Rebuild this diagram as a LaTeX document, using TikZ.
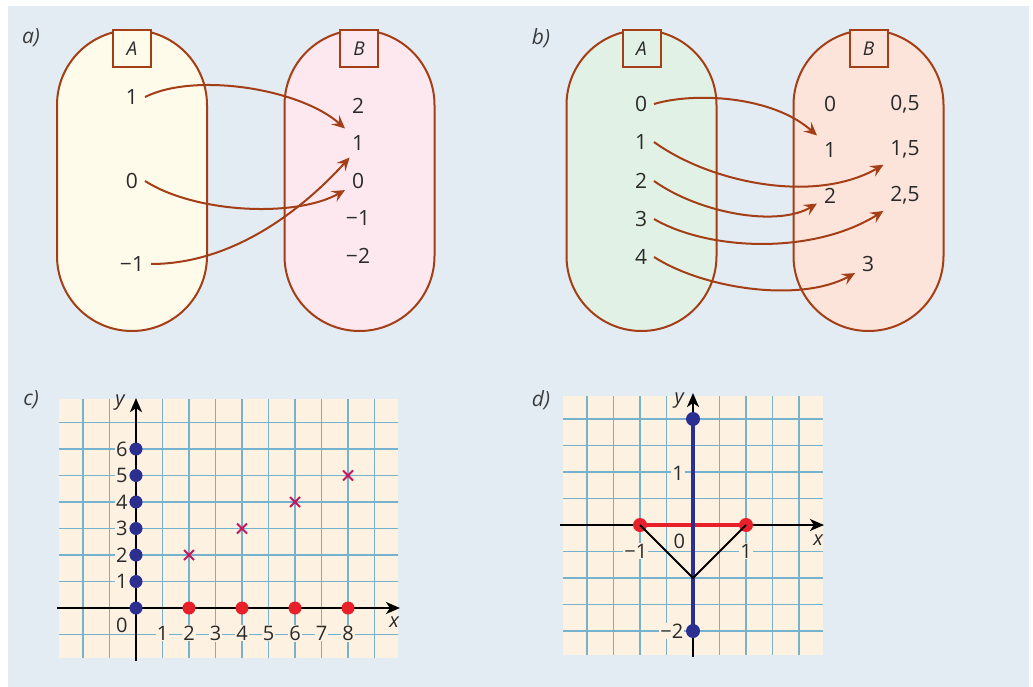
\documentclass[tikz,border=0pt]{standalone}
\usepackage{fontspec}
\setmainfont{Open Sans}
\usetikzlibrary{arrows.meta, positioning}
\definecolor{bgblue}{HTML}{E3ECF2}
\definecolor{brn}{RGB}{163,62,22}
\definecolor{txt}{HTML}{2A2A2A}
\definecolor{lbl}{HTML}{3C3C3C}
\definecolor{fillAa}{HTML}{FFFBEA}
\definecolor{fillBa}{HTML}{FDE8F0}
\definecolor{fillAb}{HTML}{E2F1E6}
\definecolor{fillBb}{HTML}{FDE4DA}
\definecolor{paper}{HTML}{FDF1E2}
\definecolor{gridc}{RGB}{118,178,206}
\definecolor{navy}{HTML}{2B2F8F}
\definecolor{dotred}{HTML}{E8202A}
\definecolor{crossc}{HTML}{C2185B}

\begin{document}
\begin{tikzpicture}[
  x=1pt, y=-1pt,
  elem/.style={inner sep=2pt, outer sep=5pt, text=txt, font=\fontsize{21}{24}\selectfont},
  oval/.style={draw=brn, line width=2pt, rounded corners=75pt, minimum width=150pt, minimum height=301pt, inner sep=0pt},
  setbox/.style={draw=brn, line width=2pt, minimum width=38pt, minimum height=37pt, inner sep=0pt, text=txt, font=\fontsize{19}{22}\selectfont\itshape},
  maparr/.style={-{Stealth[length=13pt, width=12pt, inset=5pt]}, draw=brn, line width=2pt},
  partlabel/.style={text=lbl, font=\fontsize{21}{24}\selectfont\itshape},
  gridln/.style={draw=gridc, line width=1.4pt},
  axis/.style={draw=black, line width=2pt, -{Stealth[length=14pt, width=12pt, inset=4pt]}},
  tick/.style={fill=paper, inner sep=1pt, text=txt, font=\fontsize{20}{22}\selectfont},
  axlabel/.style={inner sep=1pt, text=txt, font=\fontsize{20}{22}\selectfont\itshape},
  xmark/.style={draw=crossc, line width=1.8pt}
]
\useasboundingbox (0,0) rectangle (1033,687);
\fill[bgblue] (8,6) rectangle (1029,687);

% a)
\node[partlabel] (la) at (31,38) {a)};
\node[oval, fill=fillAa] (ovalAa) at (132,180.5) {};
\node[oval, fill=fillBa] (ovalBa) at (359.5,180.5) {};
\node[setbox, fill=fillAa] (setAa) at (132,48.5) {A};
\node[setbox, fill=fillBa] (setBa) at (359,48.5) {B};
\node[elem] (aA1) at (132,97) {1};
\node[elem] (aA0) at (132,181) {0};
\node[elem] (aAm1) at (132,264) {−1};
\node[elem] (aB2) at (358,106) {2};
\node[elem] (aB1) at (358,143) {1};
\node[elem] (aB0) at (358,181) {0};
\node[elem] (aBm1) at (358,218) {−1};
\node[elem] (aBm2) at (358,256) {−2};
\draw[maparr] (aA1.east) .. controls +(50,-25) and +(-45,-40) .. (aB1.north west);
\draw[maparr] (aA0.east) .. controls +(50,32) and +(-50,28) .. (aB0.215);
\draw[maparr] (aAm1.east) .. controls +(80,0) and +(-50,55) .. (aB1.240);

% b)
\node[partlabel] (lb) at (541,38) {b)};
\node[oval, fill=fillAb] (ovalAb) at (641.5,180.5) {};
\node[oval, fill=fillBb] (ovalBb) at (868.5,180.5) {};
\node[setbox, fill=fillAb] (setAb) at (641.5,48.5) {A};
\node[setbox, fill=fillBb] (setBb) at (868.5,48.5) {B};
\node[elem] (bA0) at (641,104) {0};
\node[elem] (bA1) at (641,142) {1};
\node[elem] (bA2) at (641,181) {2};
\node[elem] (bA3) at (641,219) {3};
\node[elem] (bA4) at (641,257) {4};
\node[elem] (bB0) at (830,104) {0};
\node[elem] (bB05) at (905,104) {0,5};
\node[elem] (bB1) at (830,150) {1};
\node[elem] (bB15) at (905,149) {1,5};
\node[elem] (bB2) at (830,196) {2};
\node[elem] (bB25) at (905,195) {2,5};
\node[elem] (bB3) at (868,264) {3};
\draw[maparr] (bA0.east) .. controls +(40,-12) and +(-45,-40) .. (bB1.north west);
\draw[maparr] (bA1.east) .. controls +(55,40) and +(-70,40) .. (bB15.south west);
\draw[maparr] (bA2.east) .. controls +(45,32) and +(-40,24) .. (bB2.210);
\draw[maparr] (bA3.east) .. controls +(55,32) and +(-70,44) .. (bB25.south west);
\draw[maparr] (bA4.east) .. controls +(50,32) and +(-55,30) .. (bB3.215);

% c)
\node[partlabel] (lc) at (31,400) {c)};
\begin{scope}[shift={(136,608)}, x=26.5pt, y=26.5pt]
  \fill[paper] (-2.9,-1.9) rectangle (9.9,7.9);
  \foreach \i in {-2,...,9} \draw[gridln] (\i,-1.9) -- (\i,7.9);
  \foreach \j in {-1,...,7} \draw[gridln] (-2.9,\j) -- (9.9,\j);
  \foreach \k in {1,...,6} \node[tick] (cy\k) at (-0.53,\k) {\k};
  \foreach \k in {1,...,8} \node[tick] (cx\k) at (\k,-0.95) {\k};
  \node[tick] (c0) at (-0.53,-0.64) {0};
  \draw[axis] (-2.98,0) -- (9.96,0);
  \draw[axis] (0,-2) -- (0,7.92);
  \node[axlabel] (cxl) at (9.74,-0.53) {x};
  \node[axlabel] (cyl) at (-0.6,7.74) {y};
  \foreach \k in {0,...,6} \fill[navy] (0,\k) circle (6.5pt);
  \foreach \k in {2,4,6,8} \fill[dotred] (\k,0) circle (6.5pt);
  \foreach \p/\q in {2/2,4/3,6/4,8/5}
    \draw[xmark] (\p,\q) +(-5pt,-5pt) -- +(5pt,5pt) +(-5pt,5pt) -- +(5pt,-5pt);
\end{scope}

% d)
\node[partlabel] (ld) at (541,400) {d)};
\begin{scope}[shift={(693,525)}, x=53pt, y=53pt]
  \fill[paper] (-2.45,-2.45) rectangle (2.45,2.43);
  \foreach \i in {-4,...,4} \draw[gridln] (\i/2,-2.45) -- (\i/2,2.43);
  \foreach \i in {-4,...,4} \draw[gridln] (-2.45,\i/2) -- (2.45,\i/2);
  \node[tick] (dy1) at (-0.28,0.98) {1};
  \node[tick] (dym2) at (-0.4,-2) {−2};
  \node[tick] (dxm1) at (-1.08,-0.49) {−1};
  \node[tick] (dx1) at (1,-0.49) {1};
  \node[tick, fill=none] (d0) at (-0.26,-0.3) {0};
  \draw[axis] (-2.51,0) -- (2.47,0);
  \draw[axis] (0,-2.49) -- (0,2.49);
  \node[axlabel] (dxl) at (2.36,-0.28) {x};
  \node[axlabel] (dyl) at (-0.26,2.34) {y};
  \draw[dotred, line width=3.5pt] (-1,0) -- (1,0);
  \draw[navy, line width=3.5pt] (0,-2) -- (0,2);
  \fill[dotred] (-1,0) circle (7pt) (1,0) circle (7pt);
  \draw[black, line width=2pt] (-1,0) -- (0,-1) -- (1,0);
  \fill[navy] (0,2) circle (7pt) (0,-2) circle (7pt);
\end{scope}
\end{tikzpicture}
\end{document}
